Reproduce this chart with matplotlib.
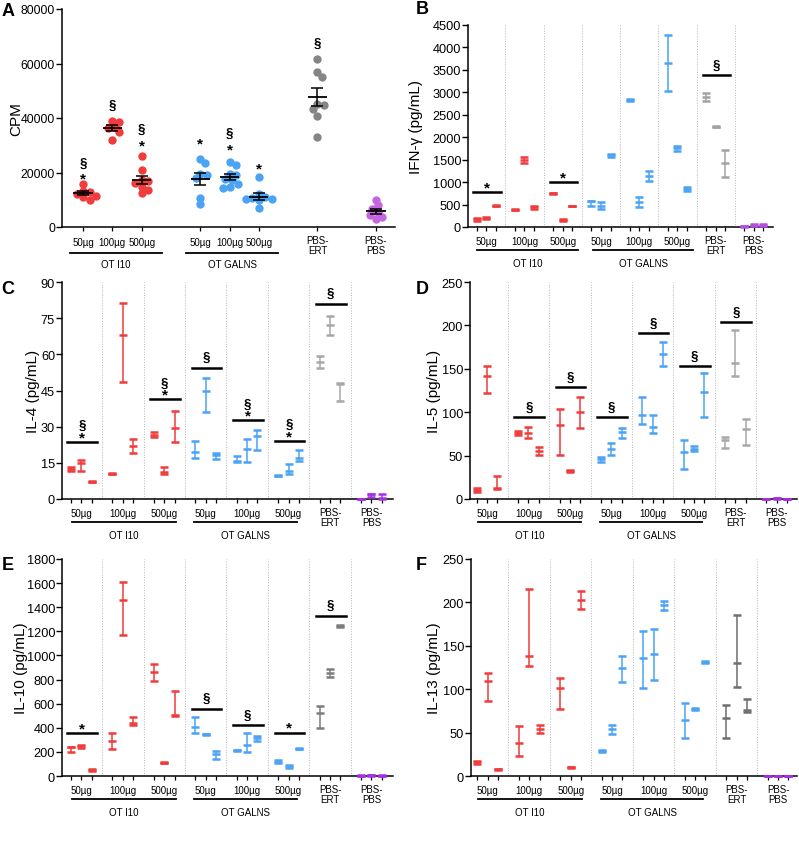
import numpy as np
import matplotlib
matplotlib.use('Agg')
import matplotlib.pyplot as plt
from matplotlib.transforms import blended_transform_factory, offset_copy

plt.rcParams['font.family'] = ['Liberation Sans', 'DejaVu Sans']

RED = '#f03c3c'
BLUE = '#4aa3f4'
PURPLE = '#a62ee8'

DOSES = ['50µg', '100µg', '500µg']
ARMS = ['OT I10', 'OT GALNS']
CONTROLS = ['PBS-\nERT', 'PBS-\nPBS']

# ---- panel A: proliferation (CPM), individual mice ----
CPM = [
    [15600, 13300, 12800, 12200, 11500, 11000, 10000],
    [38800, 38700, 36800, 36300, 35000, 31800],
    [26200, 21000, 17300, 16700, 16200, 14600, 13400, 12500],
    [25000, 23400, 19400, 18900, 17800, 10700, 8500],
    [23800, 22900, 19300, 18900, 17700, 17100, 15900, 14600, 14300],
    [18500, 12000, 10600, 10200, 11000, 10400, 9800, 7000],
    [61700, 56800, 55200, 45200, 44800, 43300, 40900, 33100],
    [9900, 7900, 6500, 5500, 4500, 3800, 2800],
]
CPM_SIG_Y = [(23800, 19500), (45400, None), (36300, 31400), (None, 32400),
             (34800, 30200), (None, 23200), (68100, None), (None, None)]

# ---- panels B-F: cytokines, mean with error bar ends ----
IFNG_MEAN = [175, 200, 475, 385, 1490, 437, 756, 156, 467, 570, 470, 1595,
             2830, 555, 1140, 3645, 1755, 840, 2895, 2235, 1420, 15, 50, 45]
IFNG_LO = [140, 185, 460, 375, 1425, 407, 746, 136, 457, 475, 410, 1565,
           2815, 450, 1025, 3025, 1690, 805, 2800, 2220, 1110, 5, 30, 30]
IFNG_HI = [210, 215, 490, 395, 1555, 467, 766, 176, 477, 590, 550, 1630,
           2845, 665, 1250, 4275, 1815, 880, 2995, 2250, 1725, 25, 70, 60]
IFNG_SIG = [(0, '*', 771), (2, '*', 1008), (6, '§', 3381)]

IL4_MEAN = [12.5, 14.8, 7.2, 10.5, 68.0, 21.9, 26.6, 11.2, 29.3, 19.6, 44.8, 18.3,
            15.8, 20.9, 26.1, 9.7, 11.6, 17.1, 57.0, 72.3, 47.8, 0.1, 1.9, 0.3]
IL4_LO = [11.8, 11.6, 6.9, 10.2, 48.4, 18.9, 25.6, 10.3, 23.7, 16.9, 35.9, 16.5,
          15.3, 15.5, 20.2, 9.4, 10.3, 15.7, 54.2, 68.2, 40.8, 0.0, 1.0, 0.0]
IL4_HI = [13.2, 16.2, 7.5, 10.8, 81.1, 24.8, 27.6, 13.3, 36.7, 23.9, 50.1, 18.9,
          17.9, 24.7, 28.6, 10.0, 14.7, 20.2, 59.5, 76.0, 48.0, 0.2, 2.2, 2.2]
IL4_SIG = [(0, '§*', 23.7), (2, '§*', 41.3), (3, '§', 54.5), (4, '§*', 32.6),
           (5, '§*', 24.0), (6, '§', 81.0)]

IL5_MEAN = [10.4, 141.7, 12.3, 76.0, 76.4, 55.3, 84.9, 31.9, 100.2, 45.7, 58.0, 76.8,
            96.8, 83.3, 167.0, 54.1, 58.0, 123.7, 67.6, 157.1, 81.0, 0.2, 0.6, 0.2]
IL5_LO = [7.7, 121.7, 11.1, 73.7, 70.7, 51.1, 50.3, 30.9, 82.2, 43.0, 50.7, 70.3,
          86.0, 76.4, 152.8, 34.6, 54.9, 94.9, 58.8, 142.1, 62.6, 0.0, 0.2, 0.0]
IL5_HI = [12.7, 153.2, 26.1, 78.3, 82.6, 59.5, 104.1, 32.9, 117.5, 48.4, 64.9, 81.8,
          117.5, 96.4, 180.9, 67.6, 60.7, 145.5, 71.0, 194.3, 92.2, 0.4, 1.0, 0.4]
IL5_SIG = [(1, '§', 94.1), (2, '§', 128.6), (3, '§', 94.1), (4, '§', 191.2),
           (5, '§', 152.8), (6, '§', 203.5)]

IL10_MEAN = [238, 247, 47, 294, 1456, 438, 860, 111, 505, 405, 347, 180,
             214, 261, 313, 119, 80, 227, 519, 854, 1245, 3, 7, 3]
IL10_LO = [200, 236, 40, 225, 1170, 421, 788, 106, 499, 360, 342, 144,
           209, 200, 294, 105, 69, 222, 399, 818, 1240, 0, 2, 0]
IL10_HI = [241, 261, 54, 355, 1606, 488, 932, 116, 707, 491, 352, 208,
           219, 360, 333, 133, 92, 232, 580, 885, 1250, 6, 12, 6]
IL10_SIG = [(0, '*', 358), (3, '§', 557), (4, '§', 421), (5, '*', 360), (6, '§', 1331)]

IL13_MEAN = [15.8, 109.4, 7.7, 38.1, 138.3, 54.3, 100.9, 10.0, 203.0, 28.9, 54.7, 124.4,
             136.4, 140.6, 196.5, 64.3, 77.4, 131.0, 67.0, 130.2, 75.9, 0.3, 0.3, 0.3]
IL13_LO = [14.3, 86.3, 7.2, 23.1, 126.3, 49.3, 77.0, 9.5, 192.2, 27.3, 48.9, 108.2,
           101.3, 110.2, 191.8, 44.3, 76.4, 130.0, 43.5, 102.1, 73.6, 0.1, 0.1, 0.1]
IL13_HI = [17.3, 118.6, 8.2, 57.4, 215.7, 58.9, 112.9, 10.5, 213.4, 30.4, 59.3, 138.7,
           167.2, 169.1, 201.1, 84.4, 78.4, 132.0, 82.0, 185.3, 89.0, 0.5, 0.5, 0.5]
IL13_SIG = []

W, H = 799, 853
fig = plt.figure(figsize=(W / 100, H / 100), dpi=100)


def rect(left, top, right, bottom):
    return [left / W, 1 - bottom / H, (right - left) / W, (bottom - top) / H]


def below(ax, dy):
    tr = blended_transform_factory(ax.transData, ax.transAxes)
    return offset_copy(tr, fig=fig, x=0, y=-dy, units='dots')


def style_axes(ax, ylim, step, ylabel, lab_x, tick_fs):
    for s in ['top', 'right']:
        ax.spines[s].set_visible(False)
    for s in ['left', 'bottom']:
        ax.spines[s].set_linewidth(1.1)
    ax.set_ylim(0, ylim)
    ax.set_yticks(np.arange(0, ylim + 1e-9, step))
    ax.tick_params(axis='y', length=4, width=1.0, labelsize=tick_fs, pad=1)
    ax.tick_params(axis='x', length=3, width=0.9, labelbottom=False)
    ax.set_ylabel(ylabel, fontsize=11)
    ax.yaxis.set_label_coords(lab_x, 0.5)


def group_labels(ax, centers, arm_lines, d_lab, d_line, d_arm, d_ctrl):
    for i, c in enumerate(centers[:6]):
        ax.text(c, 0, DOSES[i % 3], transform=below(ax, d_lab), ha='center',
                va='center', fontsize=7)
    for k, (x0, x1) in enumerate(arm_lines):
        ax.plot([x0, x1], [0, 0], color='k', lw=1.3, clip_on=False,
                transform=below(ax, d_line))
        ax.text((x0 + x1) / 2, 0, ARMS[k], transform=below(ax, d_arm),
                ha='center', va='center', fontsize=7)
    for i, c in enumerate(centers[6:]):
        ax.text(c, 0, CONTROLS[i], transform=below(ax, d_ctrl), ha='center',
                va='center', fontsize=7, linespacing=1.1)


def swarm(vals, xd, yd):
    # simple deterministic beeswarm: nearest free slot around the centre
    offs = np.zeros(len(vals))
    placed = []
    cands = [0.0]
    for k in range(1, 16):
        cands += [k * 0.35 * xd, -k * 0.35 * xd]
    for i in np.argsort(vals)[::-1]:
        y = vals[i]
        for x in cands:
            if all(((x - px) / xd) ** 2 + ((y - py) / yd) ** 2 >= 1 for px, py in placed):
                break
        placed.append((x, y))
        offs[i] = x
    return offs


# ------------------------------------------------------------------ #
#  Panel A                                                            #
# ------------------------------------------------------------------ #
axA = fig.add_axes(rect(62, 10, 395, 228))
pos_a = [0, 1, 2, 4, 5, 6, 8, 10]
cols_a = [RED] * 3 + [BLUE] * 3 + ['#858585', '#c466e2']
axA.set_xlim(-0.72, 10.65)
style_axes(axA, 80000, 20000, 'CPM', -0.117, 8.8)
for x, vals, c in zip(pos_a, CPM, cols_a):
    v = np.array(vals, dtype=float)
    off = swarm(v, 0.21, 2100)
    axA.plot(x + off, v, 'o', ms=6.0, color=c, mec='none', zorder=3)
    m = v.mean()
    sem = v.std(ddof=1) / np.sqrt(len(v))
    axA.hlines(m, x - 0.33, x + 0.33, color='k', lw=1.3, zorder=4)
    axA.errorbar(x, m, yerr=sem, fmt='none', ecolor='k', elinewidth=1.1,
                 capsize=4.5, capthick=1.1, zorder=4)
for x, (ys, ya) in zip(pos_a, CPM_SIG_Y):
    if ys is not None:
        axA.annotate('§', xy=(x, ys), xytext=(0, -3), textcoords='offset points',
                     ha='center', va='baseline', fontsize=9.5, fontweight='bold')
    if ya is not None:
        axA.annotate('*', xy=(x, ya), xytext=(0, -6), textcoords='offset points',
                     ha='center', va='baseline', fontsize=11, fontweight='bold')
axA.set_xticks(pos_a)
group_labels(axA, pos_a, [(-0.44, 2.7), (3.52, 6.66)], 15, 26, 37, 18)


# ------------------------------------------------------------------ #
#  Panels B-F                                                         #
# ------------------------------------------------------------------ #
def cyto_panel(box, xlim, mean, lo, hi, sigs, ylim, step, ylabel, lab_x,
               gray, purple, arm_lines):
    ax = fig.add_axes(rect(*box))
    ax.set_xlim(*xlim)
    style_axes(ax, ylim, step, ylabel, lab_x, 9.2)
    cols = [RED] * 3 + [BLUE] * 3 + [gray, purple]
    xs = [4 * g + j for g in range(8) for j in range(3)]
    for g in range(7):
        ax.axvline(4 * g + 3, color='#b5b5b5', ls=':', lw=0.7, zorder=0)
    for i, x in enumerate(xs):
        c = cols[i // 3]
        err = [[mean[i] - lo[i]], [hi[i] - mean[i]]]
        ax.errorbar(x, mean[i], yerr=err, fmt='_', ms=6, mew=1.8, color=c,
                    ecolor=c, elinewidth=1.1, capsize=2.6, capthick=1.0,
                    clip_on=False, zorder=3)
    for g, sym, yv in sigs:
        ax.plot([4 * g - 0.35, 4 * g + 2.5], [yv, yv], color='k', lw=1.8)
        if '*' in sym:
            ax.annotate('*', xy=(4 * g + 1.05, yv), xytext=(0, 0.5),
                        textcoords='offset points', ha='center', va='baseline',
                        fontsize=11, fontweight='bold')
            if '§' in sym:
                ax.annotate('§', xy=(4 * g + 1.05, yv), xytext=(0, 10),
                            textcoords='offset points', ha='center', va='baseline',
                            fontsize=9.5, fontweight='bold')
        else:
            ax.annotate('§', xy=(4 * g + 1.05, yv), xytext=(0, 5.5),
                        textcoords='offset points', ha='center', va='baseline',
                        fontsize=9.5, fontweight='bold')
    ax.set_xticks(xs)
    centers = [4 * g + 1 for g in range(8)]
    group_labels(ax, centers, arm_lines, 14, 23, 36, 18)
    return ax


lines_b = [(0.0, 10.6), (12.2, 22.6)]
lines_c = [(0.1, 10.1), (11.9, 21.8)]
cyto_panel((468, 26, 773, 228), (-0.91, 31.0), IFNG_MEAN, IFNG_LO, IFNG_HI, IFNG_SIG,
           4500, 500, 'IFN-γ (pg/mL)', -0.148, '#a3a3a3', '#b44fe2', lines_b)
cyto_panel((62, 283, 393, 500), (-0.87, 31.08), IL4_MEAN, IL4_LO, IL4_HI, IL4_SIG,
           90, 15, 'IL-4 (pg/mL)', -0.066, '#a8a8a8', PURPLE, lines_c)
cyto_panel((470, 283, 797, 500), (-0.65, 30.95), IL5_MEAN, IL5_LO, IL5_HI, IL5_SIG,
           250, 50, 'IL-5 (pg/mL)', -0.089, '#a8a8a8', PURPLE, lines_c)
cyto_panel((62, 560, 393, 777), (-0.87, 31.08), IL10_MEAN, IL10_LO, IL10_HI, IL10_SIG,
           1800, 200, 'IL-10 (pg/mL)', -0.103, '#7d7d7d', PURPLE, lines_c)
cyto_panel((471, 560, 797, 777), (-0.61, 30.83), IL13_MEAN, IL13_LO, IL13_HI, IL13_SIG,
           250, 50, 'IL-13 (pg/mL)', -0.092, '#6e6e6e', PURPLE, lines_c)

for letter, (px, py) in zip('ABCDEF', [(8, 11), (422, 10), (8, 289), (422, 289),
                                       (8, 566), (421, 566)]):
    fig.text(px / W, 1 - py / H, letter, ha='center', va='center',
             fontsize=13, fontweight='bold')

fig.savefig('out.png', dpi=100)
